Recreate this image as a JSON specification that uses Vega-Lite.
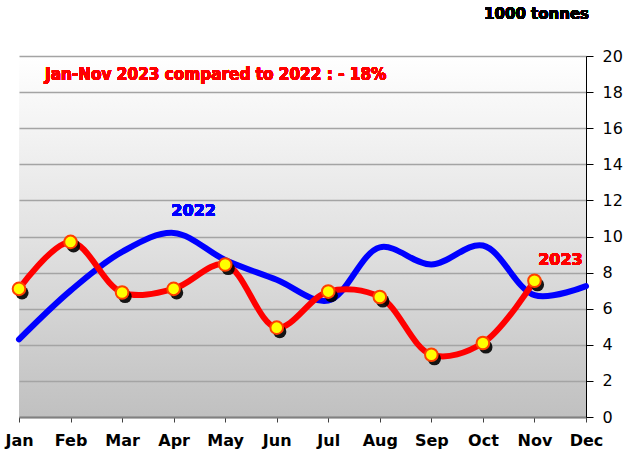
{
  "$schema": "https://vega.github.io/schema/vega-lite/v6.json",
  "width": 567,
  "height": 361,
  "autosize": {"type": "none"},
  "padding": {"left": 19, "top": 56, "right": 39, "bottom": 33},
  "background": "white",
  "config": {
    "font": "DejaVu Sans",
    "view": {
      "stroke": null,
      "fill": {
        "gradient": "linear",
        "x1": 0, "y1": 0, "x2": 0, "y2": 1,
        "stops": [
          {"offset": 0, "color": "#ffffff"},
          {"offset": 0.5, "color": "#e2e2e2"},
          {"offset": 1, "color": "#c0c0c0"}
        ]
      }
    }
  },
  "data": {
    "values": [
      {"month": "Jan", "year": "2022", "value": 4.3},
      {"month": "Feb", "year": "2022", "value": 7.0},
      {"month": "Mar", "year": "2022", "value": 9.15},
      {"month": "Apr", "year": "2022", "value": 10.2},
      {"month": "May", "year": "2022", "value": 8.7},
      {"month": "Jun", "year": "2022", "value": 7.6},
      {"month": "Jul", "year": "2022", "value": 6.45},
      {"month": "Aug", "year": "2022", "value": 9.4},
      {"month": "Sep", "year": "2022", "value": 8.45},
      {"month": "Oct", "year": "2022", "value": 9.5},
      {"month": "Nov", "year": "2022", "value": 6.75},
      {"month": "Dec", "year": "2022", "value": 7.25},
      {"month": "Jan", "year": "2023", "value": 7.1},
      {"month": "Feb", "year": "2023", "value": 9.7},
      {"month": "Mar", "year": "2023", "value": 6.9},
      {"month": "Apr", "year": "2023", "value": 7.1},
      {"month": "May", "year": "2023", "value": 8.45},
      {"month": "Jun", "year": "2023", "value": 4.95},
      {"month": "Jul", "year": "2023", "value": 6.95},
      {"month": "Aug", "year": "2023", "value": 6.65},
      {"month": "Sep", "year": "2023", "value": 3.45},
      {"month": "Oct", "year": "2023", "value": 4.1},
      {"month": "Nov", "year": "2023", "value": 7.55}
    ]
  },
  "encoding": {
    "x": {
      "field": "month",
      "type": "ordinal",
      "scale": {
        "type": "point",
        "padding": 0,
        "domain": ["Jan", "Feb", "Mar", "Apr", "May", "Jun", "Jul", "Aug", "Sep", "Oct", "Nov", "Dec"]
      },
      "axis": {
        "title": null,
        "orient": "bottom",
        "labelAngle": 0,
        "labelFont": "DejaVu Sans",
        "labelFontSize": 16,
        "labelFontWeight": "bold",
        "labelColor": "#000000",
        "labelPadding": 10,
        "domainColor": "#808080",
        "domainWidth": 2,
        "tickColor": "#404040",
        "tickSize": 5,
        "grid": false
      }
    },
    "y": {
      "field": "value",
      "type": "quantitative",
      "scale": {"domain": [0, 20], "nice": false, "zero": true},
      "axis": {
        "title": null,
        "orient": "right",
        "values": [0, 2, 4, 6, 8, 10, 12, 14, 16, 18, 20],
        "labelFont": "DejaVu Sans",
        "labelFontSize": 16,
        "labelColor": "#000000",
        "labelPadding": 9,
        "domainColor": "#000000",
        "domainWidth": 1,
        "tickColor": "#000000",
        "tickSize": 7,
        "grid": true,
        "gridColor": "#a4a4a4",
        "gridWidth": 1.5
      }
    }
  },
  "layer": [
    {
      "transform": [{"filter": "datum.year === '2022'"}],
      "mark": {"type": "line", "interpolate": "catmull-rom", "color": "#0000ff", "strokeWidth": 6, "strokeCap": "round"}
    },
    {
      "transform": [{"filter": "datum.year === '2023'"}],
      "mark": {"type": "line", "interpolate": "catmull-rom", "color": "#ff0000", "strokeWidth": 6, "strokeCap": "round"}
    },
    {
      "transform": [{"filter": "datum.year === '2023'"}],
      "mark": {"type": "point", "shape": "circle", "filled": true, "size": 175, "color": "#000000", "opacity": 0.9, "xOffset": 3, "yOffset": 4}
    },
    {
      "transform": [{"filter": "datum.year === '2023'"}],
      "mark": {"type": "point", "shape": "circle", "filled": true, "size": 160, "fill": "#ffff00", "stroke": "#ff4000", "strokeWidth": 2, "opacity": 1}
    },
    {
      "mark": {"type": "text", "text": "2022", "color": "#0000ff", "font": "DejaVu Sans", "fontSize": 16, "fontWeight": "bold", "align": "center", "baseline": "middle", "dx": 20},
      "encoding": {"x": {"datum": "Apr"}, "y": {"datum": 11.4}}
    },
    {
      "mark": {"type": "text", "text": "2023", "color": "#ff0000", "font": "DejaVu Sans", "fontSize": 16, "fontWeight": "bold", "align": "center", "baseline": "middle", "dx": 26},
      "encoding": {"x": {"datum": "Nov"}, "y": {"datum": 8.7}}
    },
    {
      "mark": {"type": "text", "text": "Jan-Nov 2023 compared to 2022 : - 18%", "color": "#ff0000", "font": "DejaVu Sans Condensed", "fontSize": 17, "fontWeight": "bold", "align": "left", "baseline": "middle", "dx": 26},
      "encoding": {"x": {"datum": "Jan"}, "y": {"datum": 18.95}}
    },
    {
      "mark": {"type": "text", "text": "1000 tonnes", "color": "#000000", "font": "DejaVu Sans", "fontSize": 15, "fontWeight": "bold", "align": "right", "baseline": "middle", "dx": 3, "clip": false},
      "encoding": {"x": {"datum": "Dec"}, "y": {"datum": 22.3}}
    }
  ]
}
